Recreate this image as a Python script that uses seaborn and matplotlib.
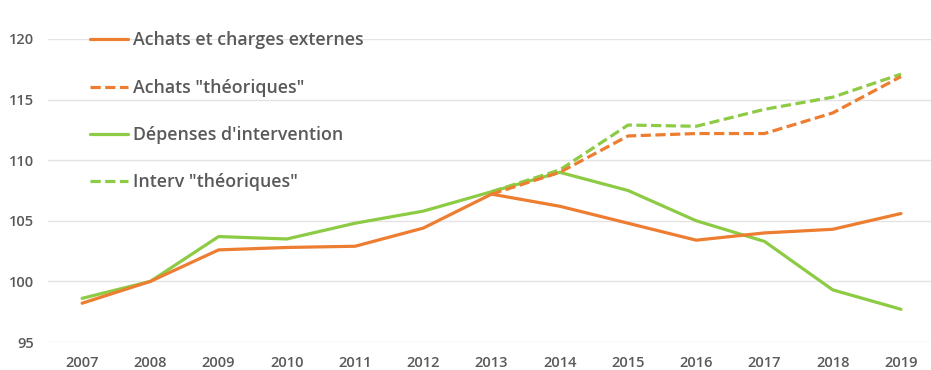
import numpy as np
import pandas as pd
import matplotlib
matplotlib.use("Agg")
import matplotlib.pyplot as plt
import seaborn as sns

years = [2007, 2008, 2009, 2010, 2011, 2012, 2013, 2014, 2015, 2016, 2017, 2018, 2019]
achats = [98.2, 100.0, 102.6, 102.8, 102.9, 104.4, 107.2, 106.2, 104.8, 103.4, 104.0, 104.3, 105.6]
achats_theo = [np.nan] * 6 + [107.2, 109.0, 112.0, 112.2, 112.2, 113.9, 116.9]
depenses = [98.6, 100.0, 103.7, 103.5, 104.8, 105.8, 107.4, 109.0, 107.5, 105.0, 103.3, 99.3, 97.7]
interv_theo = [np.nan] * 6 + [107.4, 109.2, 112.9, 112.8, 114.2, 115.2, 117.1]
yticks = [95, 100, 105, 110, 115, 120]

labels = ['Achats et charges externes', 'Achats "théoriques"',
          "Dépenses d'intervention", 'Interv "théoriques"']
series = [achats, achats_theo, depenses, interv_theo]

sns.set_theme(style="white")
plt.rcParams['font.family'] = ['Open Sans', 'DejaVu Sans']

ORANGE = "#ED7D31"
GREEN = "#8DCB45"
TXT = "#595959"
styles = [(ORANGE, '-'), (ORANGE, (0, (3.2, 1.4))), (GREEN, '-'), (GREEN, (0, (3.2, 1.4)))]

fig = plt.figure(figsize=(9.31, 3.70), dpi=100)
ax = fig.add_axes([48 / 931, 28 / 370, 883 / 931, 303 / 370])

x = np.arange(len(years))
order = [2, 0, 3, 1]
handles = {}
for i in order:
    df = pd.DataFrame({"x": x, "y": series[i]})
    c, ls = styles[i]
    sns.lineplot(data=df, x="x", y="y", ax=ax, color=c, linewidth=2.3,
                 linestyle=ls, label=labels[i], legend=False)
    handles[i] = ax.get_lines()[-1]

ax.set_xlim(-0.5, 12.44)
ax.set_ylim(95, 120)
ax.set_yticks(yticks)
ax.set_yticklabels([str(v) for v in yticks])
ax.set_xticks(x)
ax.set_xticklabels([str(y) for y in years])
ax.set_xlabel("")
ax.set_ylabel("")
ax.grid(axis='y', color="#E3E3E3", linewidth=1.0)
ax.set_axisbelow(True)
for s in ax.spines.values():
    s.set_visible(False)
ax.tick_params(axis='both', length=0, colors=TXT, labelsize=10.5)
ax.tick_params(axis='x', pad=10)
ax.tick_params(axis='y', pad=10)
for t in ax.get_xticklabels() + ax.get_yticklabels():
    t.set_fontweight('semibold')
    t.set_color(TXT)

leg = ax.legend([handles[i] for i in range(4)], labels, loc='upper left',
                bbox_to_anchor=(0.0476, 1.025), frameon=False, fontsize=12.8,
                labelspacing=1.65, handlelength=2.15, handletextpad=0.28,
                borderpad=0, borderaxespad=0)
for t in leg.get_texts():
    t.set_color(TXT)
    t.set_fontweight('semibold')

fig.savefig("out.png", dpi=100, facecolor="white")
